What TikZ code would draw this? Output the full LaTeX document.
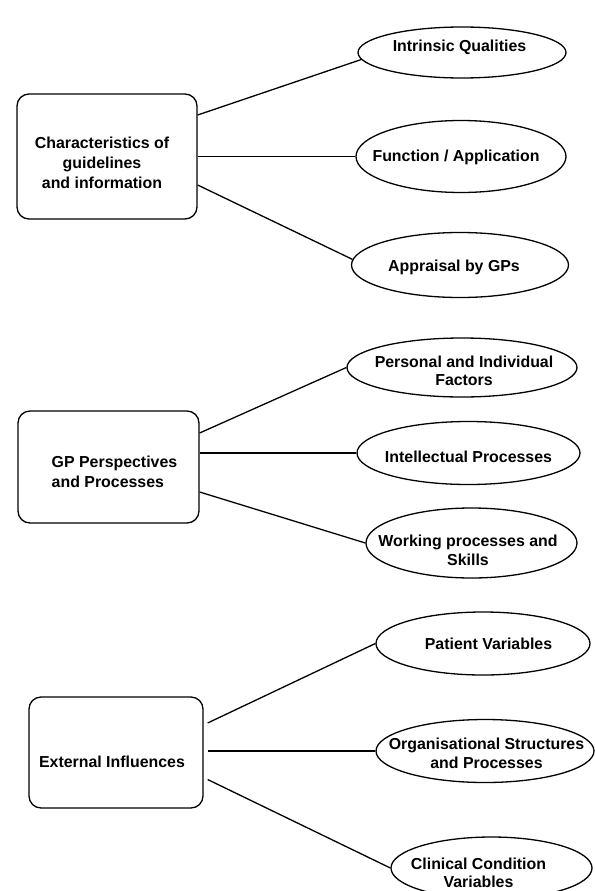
\documentclass[tikz,border=0pt]{standalone}
\usepackage{fontspec}
\setmainfont{Liberation Sans}
\usetikzlibrary{shapes.geometric}
\begin{document}
\begin{tikzpicture}[x=1pt,y=1pt,
  box/.style={draw, rounded corners=12pt, line width=1.3pt, inner sep=0pt},
  oval/.style={draw, ellipse, line width=1.3pt, inner sep=0pt},
  txt/.style={font=\fontsize{15.9}{18.5}\selectfont\bfseries, align=center, inner sep=0pt},
  btxt/.style={txt, font=\fontsize{15.9}{20}\selectfont\bfseries},
  link/.style={line width=1.3pt}]
\useasboundingbox (0,0) rectangle (594,-891);

% group 1
\node[box, minimum width=180pt, minimum height=125pt,
  label={[btxt, xshift=-5pt, yshift=-6.5pt]center:{Characteristics of\\guidelines\\and information}}] (b1) at (107,-156.5) {};
\node[oval, minimum width=208pt, minimum height=51pt,
  label={[txt, xshift=-2.5pt, yshift=5.5pt]center:{Intrinsic Qualities}}] (e1) at (462,-52.5) {};
\node[oval, minimum width=210pt, minimum height=72pt,
  label={[txt, xshift=-5pt, yshift=-0.5pt]center:{Function / Application}}] (e2) at (461,-156.5) {};
\node[oval, minimum width=217pt, minimum height=65pt,
  label={[txt, xshift=-6pt, yshift=-2pt]center:{Appraisal by GPs}}] (e3) at (460,-265) {};
\draw[link] ([yshift=41.5pt]b1.east) -- (e1.184);
\draw[link] (b1.east) -- (e2.west);
\draw[link] ([yshift=-28.5pt]b1.east) -- (e3.177);

% group 2
\node[box, minimum width=181pt, minimum height=112pt,
  label={[btxt, align=left, xshift=6pt, yshift=-5pt]center:{GP Perspectives\\and Processes}}] (b2) at (108.5,-467) {};
\node[oval, minimum width=230pt, minimum height=59pt,
  label={[txt, xshift=2pt, yshift=-3.5pt]center:{Personal and Individual\\Factors}}] (e4) at (462,-367.5) {};
\node[oval, minimum width=223pt, minimum height=63pt,
  label={[txt, yshift=-4pt]center:{Intellectual Processes}}] (e5) at (468.5,-453) {};
\node[oval, minimum width=211pt, minimum height=70pt,
  label={[txt, xshift=-3.5pt, yshift=-7.5pt]center:{Working processes and\\Skills}}] (e6) at (471.5,-543) {};
\draw[link] ([yshift=34pt]b2.east) -- (e4.west);
\draw[link] ([yshift=14pt]b2.east) -- (e5.west);
\draw[link] ([yshift=-25pt]b2.east) -- (e6.west);

% group 3
\node[box, minimum width=174pt, minimum height=111pt,
  label={[btxt, xshift=-4pt, yshift=-9.5pt]center:{External Influences}}] (b3) at (116,-752.5) {};
\node[oval, minimum width=214pt, minimum height=63pt,
  label={[txt, xshift=5.5pt]center:{Patient Variables}}] (e7) at (483,-643.5) {};
\node[oval, minimum width=218pt, minimum height=63pt,
  label={[txt, xshift=1.5pt, yshift=-2.5pt]center:{Organisational Structures\\and Processes}}] (e8) at (485,-751) {};
\node[oval, minimum width=201pt, minimum height=62pt,
  label={[txt, xshift=-13pt, yshift=-5pt]center:{Clinical Condition\\Variables}}] (e9) at (491.5,-868) {};
\draw[link] ([xshift=4pt,yshift=29.5pt]b3.east) -- (e7.west);
\draw[link] ([xshift=4pt,yshift=1.5pt]b3.east) -- (e8.west);
\draw[link] ([xshift=4pt,yshift=-27pt]b3.east) -- (e9.west);
\end{tikzpicture}
\end{document}
